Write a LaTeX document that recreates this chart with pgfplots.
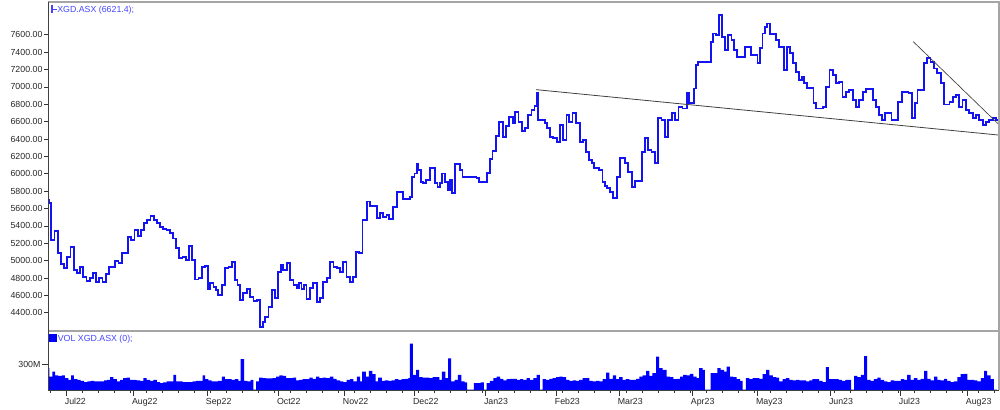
\documentclass[border=0pt]{standalone}
\usepackage{pgfplots}
\pgfplotsset{compat=1.18}
\usepackage{fontspec}
\setmainfont{Liberation Sans}
\definecolor{lineblue}{RGB}{20,20,240}
\definecolor{legblue}{RGB}{70,70,255}
\definecolor{framegray}{RGB}{165,165,165}
\begin{document}
\begin{tikzpicture}
\path[use as bounding box] (0,0) rectangle (750pt,307.5pt);
% ---------------- price panel ----------------
\begin{axis}[
  at={(36pt,58.5pt)}, anchor=south west,
  scale only axis, width=712.5pt, height=246.75pt,
  xmin=0, xmax=296.875, ymin=4179, ymax=7965,
  axis line style={draw=none},
  xtick=\empty,
  ytick={4400,4600,...,7600},
  ytick pos=left, tick align=outside, major tick length=3pt,
  tick style={black!80, line width=0.5pt},
  yticklabel style={font=\fontsize{6.6}{7}\selectfont, text=black!85, inner sep=1pt},
  /pgf/number format/.cd, fixed, fixed zerofill, precision=2, 1000 sep={}, assume math mode=true,
]
\addplot[const plot, lineblue, line width=1.35pt] coordinates {
(0,5530) (0,5700) (0.3,5667) (1,5237) (2,5341) (3,5084) (4,4957) (5,4911) (6,5045) (7,5160)
(8,4892) (9,4861) (10,4923) (11,4815) (12,4769) (13,4796) (14,4861) (15,4758) (16,4796) (17,4758)
(18,4846) (19,4930) (21,4999) (22,4969) (23,5084) (25,5268) (26,5237) (27,5352) (28,5283) (29,5352)
(30,5429) (31,5467) (32,5513) (33,5467) (34,5429) (35,5383) (36,5360) (37,5352) (38,5314) (39,5256)
(40,5141) (41,5026) (42,5045) (43,5007) (44,5168) (45,5007) (46,4784) (47,4796) (48,4930) (49,4938)
(50,4670) (50.6,4739) (51.7,4693) (52.5,4662) (53.2,4605) (54.3,4720) (55.3,4912) (56.4,4931) (57.4,4988) (58.4,4777)
(59.2,4720) (60,4547) (61,4624) (62.1,4670) (63.1,4586) (64.2,4540) (65.4,4547) (66.25,4240) (67.1,4298) (67.8,4355)
(68.9,4470) (69.9,4662) (70.9,4566) (71.8,4873) (72.8,4950) (73.5,4892) (74.6,4969) (75.6,4777) (76.7,4720) (77.7,4681)
(78.5,4739) (79.2,4670) (80,4720) (80.8,4555) (81.9,4681) (82.9,4739) (84,4528) (85,4566) (86,4758) (87.1,4797)
(88.1,4988) (89.2,4931) (90.2,4912) (91.25,4873) (92.3,4988) (93.3,4816) (94.4,4758) (95.2,4816) (96.25,5103) (97.3,5092)
(98.3,5468) (99.6,5680) (100.6,5630) (102.7,5487) (103.8,5545) (104.8,5506) (105.8,5525) (106.6,5480) (107.8,5621) (109,5790)
(111,5710) (113.1,5736) (113.8,5966) (114.5,6004) (115.2,6119) (115.7,6042) (116.6,5908) (117.3,5889) (118,5927) (119.4,6065)
(120.9,5889) (121.7,5851) (122.5,5889) (123.2,6004) (124.1,5908) (124.9,5812) (125.6,5927) (126.3,5774) (127.2,6110) (128.7,6042)
(129.5,5966) (133.9,5947) (134.8,5909) (137.1,6005) (138.1,6166) (138.9,6266) (140,6438) (141,6592) (142.3,6427) (143.1,6553)
(144.1,6657) (145.2,6580) (145.9,6714) (147,6599) (148,6496) (149,6523) (150.1,6676) (151.1,6734) (152,6780) (152.7,6925)
(153.2,6618) (155.3,6580) (156,6523) (156.9,6427) (157.7,6408) (159.1,6369) (160,6561) (161,6388) (162,6676) (162.9,6599)
(163.9,6695) (165,6580) (166.2,6369) (167.1,6388) (168.1,6254) (169.1,6158) (169.9,6120) (170.6,6062) (172.3,6043) (173.3,5909)
(174,5859) (174.8,5832) (175.6,5794) (176.6,5717) (177.7,5966) (178.7,6177) (180.3,6120) (181.3,6024) (182.4,5851) (183.4,5920)
(185.5,6254) (186.5,6408) (187.6,6273) (188.6,6254) (189.7,6120) (190.7,6638) (191.7,6618) (192.8,6427) (193.8,6618) (194.9,6695)
(195.9,6618) (197,6772) (198.3,6752) (199.6,6925) (200.4,6810) (201.9,6982) (202.5,7251) (203.2,7289) (207.1,7520) (207.9,7615)
(208.75,7596) (209.8,7826) (210.5,7577) (211.6,7424) (212.6,7596) (213.6,7539) (214.4,7424) (215.4,7347) (217.8,7462) (219.6,7366)
(221.7,7270) (222.5,7443) (223.3,7615) (224.1,7692) (224.8,7730) (225.6,7608) (227.5,7539) (228.5,7462) (230,7193) (231,7462)
(231.9,7385) (232.9,7270) (233.75,7174) (234.8,7078) (235.5,7117) (236.25,7040) (237.1,6990) (239.2,6810) (240,6752) (242.3,6771)
(243.1,7002) (244.2,7193) (245.2,7136) (246.25,7040) (247.3,7059) (248.3,6887) (249.4,6944) (250.4,6963) (251.5,6848) (252.5,6771)
(253.5,6848) (254.6,6944) (255.6,6971) (257.7,6848) (258.75,6771) (259.8,6676) (260.5,6618) (261.6,6702) (263.6,6618) (265.7,6829)
(266.8,6944) (268.9,6925) (269.9,6637) (270.9,6810) (271.7,6963) (273.75,7270) (274.8,7328) (275.8,7289) (276.9,7212) (277.9,7155)
(279,7040) (280,6798) (281.7,6829) (282.7,6887) (283.75,6906) (284.8,6771) (285.8,6848) (286.9,6733) (287.9,6695) (289,6637)
(290,6676) (291,6618) (292.1,6560) (293.1,6599) (294.1,6618) (295.2,6637) (296.25,6618) (296.9,6618)
};
\addplot[forget plot, black!75, line width=0.6pt] coordinates {(152.5,6968) (296.9,6446)};
\addplot[forget plot, black!75, line width=0.5pt] coordinates {(270.4,7520) (296.9,6575)};
\end{axis}
% ---------------- volume panel ----------------
\begin{axis}[
  at={(36pt,15pt)}, anchor=south west,
  scale only axis, width=712.5pt, height=43.5pt,
  xmin=0, xmax=296.875, ymin=0, ymax=688,
  axis line style={draw=none},
  ytick={300}, yticklabels={300M},
  ytick pos=left, xtick pos=bottom, tick align=outside,
  major tick length=4.5pt, minor tick length=2.2pt,
  tick style={black!80, line width=0.5pt},
  yticklabel style={font=\fontsize{6.6}{7}\selectfont, text=black!85, inner sep=1pt},
  xtick={5.6,26.6,49.7,71.9,92.5,114.4,136.6,158.75,178.4,201.25,221.6,244.4,266.25,287.2},
  xticklabels={Jul22,Aug22,Sep22,Oct22,Nov22,Dec22,Jan23,Feb23,Mar23,Apr23,May23,Jun23,Jul23,Aug23},
  minor xtick={0.6,5.6,...,296},
  xticklabel style={font=\fontsize{6.6}{7}\selectfont, text=black!85, anchor=north west, inner sep=0pt, xshift=-1pt, yshift=-1.5pt},
]
\addplot[const plot, fill=blue, draw=none] coordinates {
(0,258) (0.4,160) (1.35,219) (2.2,172) (3.2,168) (4.3,172) (5.3,141) (6.4,121) (7.2,172) (8.1,129)
(9.2,121) (10.2,109) (11.25,94) (12.3,102) (13.3,109) (14.4,102) (17.5,113) (18.5,121) (19.4,152) (20.4,129)
(21.5,102) (22.5,121) (23.5,141) (24.6,148) (25.6,121) (27.7,113) (28.75,109) (29.8,141) (30.8,121) (31.9,109)
(32.9,121) (34,94) (35,82) (36,90) (37.1,102) (39.2,180) (40,102) (42.1,94) (45.2,102) (46.25,109)
(48.3,172) (49.1,129) (50.1,113) (51.1,102) (53.2,109) (54.3,160) (55.3,129) (57.4,121) (58.4,129) (59.5,109)
(60.2,367) (61.25,109) (62.3,102) (63.3,121) (64.2,5) (65,102) (66,148) (67.1,141) (68.1,137) (70.2,141)
(71.25,160) (72.3,172) (73.3,168) (74.4,141) (76.5,148) (77.5,113) (78.5,121) (79.6,129) (81.7,148) (82.7,133)
(83.75,160) (84.8,141) (85.8,148) (86.9,141) (88.1,160) (89.2,133) (90.2,113) (91.25,102) (92.3,94) (93.3,121)
(94.4,129) (95.4,102) (96.5,160) (97.5,102) (98.2,219) (99.3,160) (100.3,227) (101.4,187) (102.4,102) (103.2,148)
(104.3,109) (105.3,113) (106.4,109) (107.4,113) (108.4,129) (109.5,121) (110.5,129) (111.6,133) (112.6,141) (113.1,551)
(114,180) (115,238) (116,152) (117.1,148) (119.2,141) (120.2,152) (122.3,121) (123.1,219) (124.2,141) (125,375)
(126,102) (127.1,121) (128.1,180) (129.2,102) (130.2,90) (131,5) (133.1,82) (135.2,90) (136.2,5) (137.1,82)
(138.1,109) (139.2,141) (140.2,160) (141.25,133) (142.3,113) (143.3,129) (144.4,133) (146.5,121) (147.5,129) (148.5,121)
(149.6,141) (150.6,121) (151.7,141) (152.7,180) (153.7,5) (154.6,129) (155.6,121) (156.7,133) (157.7,141) (158.75,152)
(159.8,160) (160.8,152) (161.9,121) (162.9,109) (164,113) (165,109) (166,121) (167.1,141) (169.2,109) (170.2,102)
(171.25,109) (172.3,102) (173.3,129) (174.4,207) (175.4,133) (176.5,172) (177.5,129) (178.5,152) (179.6,121) (180.6,129)
(181.7,121) (183.75,133) (184.8,160) (185.8,172) (186.9,227) (187.9,168) (188.9,199) (190,395) (191,258) (192.1,238)
(193.3,160) (194.4,152) (195.4,129) (196.5,133) (197.5,160) (198.5,180) (199.6,172) (200.6,191) (201.7,160) (202.7,141)
(203.5,258) (204.6,238) (205.3,5) (207.1,199) (209.2,258) (210.2,238) (211.25,219) (212.1,277) (213.1,160) (214.2,152)
(215.2,129) (216.25,109) (217.1,5) (218.1,141) (219.2,129) (220.2,141) (222.3,133) (223.3,187) (224.4,238) (225.4,172)
(226.5,152) (227.5,148) (228.5,102) (229.6,129) (230.6,141) (231.7,121) (232.7,113) (233.75,121) (234.8,113) (236.9,102)
(237.9,113) (238.9,129) (241,109) (242.1,94) (243.1,270) (244,129) (247.1,121) (248.1,109) (249.2,121) (251,5)
(251.9,168) (252.9,152) (254,180) (255,402) (256,121) (257.1,109) (258.1,129) (259.2,148) (260.2,121) (261.25,102)
(262.3,94) (263.3,113) (264.4,109) (266.5,129) (267.5,121) (268.5,180) (269.6,121) (270.6,141) (271.7,121) (272.7,133)
(273.75,227) (274.8,133) (275.8,113) (276.9,160) (277.9,121) (278.9,113) (280,133) (281,109) (282.1,94) (283.1,102)
(284.2,152) (285.2,187) (286.25,191) (287.3,121) (289.4,113) (290.4,102) (291.5,141) (292.5,227) (293.5,172) (294.6,129)
(295.6,5) (296.6,5)
} \closedcycle;
\end{axis}
% ---------------- frame and legends ----------------
\draw[framegray, line width=1.5pt] (36pt,306.3pt) -- (748.9pt,306.3pt) -- (748.9pt,15pt);
\draw[framegray, line width=1.5pt] (36pt,58.9pt) -- (748.9pt,58.9pt);
\draw[black!75, line width=0.6pt] (36pt,306.3pt) -- (36pt,15pt) -- (748.9pt,15pt);
\draw[legblue, line width=0.9pt] (39pt,304pt) -- (39pt,297.5pt) (39pt,300.5pt) -- (42.5pt,300.5pt);
\node[anchor=base west, inner sep=0pt, text=legblue, font=\fontsize{6.6}{7}\selectfont] at (42.8pt,298.3pt) {XGD.ASX (6621.4);};
\fill[blue] (36.8pt,51.2pt) rectangle (42.6pt,57pt);
\node[anchor=base west, inner sep=0pt, text=legblue, font=\fontsize{6.6}{7}\selectfont] at (43.2pt,51.6pt) {VOL XGD.ASX (0);};
\end{tikzpicture}
\end{document}
